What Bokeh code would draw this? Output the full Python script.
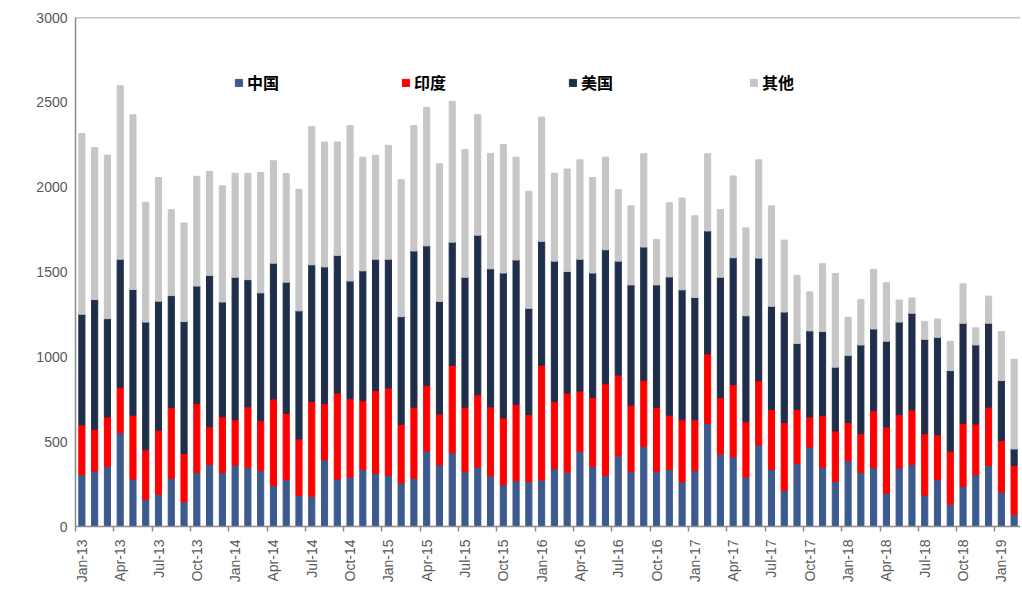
import math
from bokeh.plotting import figure
from bokeh.models import ColumnDataSource, FixedTicker, Range1d, Span, Legend, LegendItem
from bokeh.embed import file_html
from bokeh.resources import INLINE

MON = ["Jan", "Feb", "Mar", "Apr", "May", "Jun", "Jul", "Aug", "Sep", "Oct", "Nov", "Dec"]
months = [f"{m}-{y:02d}" for y in range(13, 20) for m in MON][:74]

china = [306, 326, 354, 553, 280, 158, 190, 284, 145, 318, 366, 318, 363, 347, 329, 241, 275, 183,
         178, 392, 280, 291, 336, 314, 302, 257, 284, 444, 363, 435, 322, 350, 298, 246, 269, 264,
         273, 341, 320, 442, 354, 302, 415, 325, 471, 325, 336, 264, 329, 607, 426, 411, 291, 480,
         336, 212, 370, 468, 349, 266, 387, 320, 347, 196, 345, 365, 185, 275, 131, 236, 304, 360,
         203, 72]
india = [293, 247, 292, 267, 376, 294, 378, 417, 286, 408, 222, 329, 266, 358, 295, 510, 392, 333,
         559, 332, 507, 462, 405, 488, 514, 345, 419, 388, 300, 514, 381, 426, 407, 394, 450, 396,
         678, 396, 467, 356, 406, 539, 477, 390, 390, 378, 320, 365, 300, 410, 334, 425, 327, 379,
         354, 401, 320, 178, 304, 297, 226, 227, 335, 390, 315, 322, 362, 265, 313, 372, 300, 343,
         304, 288]
usa = [652, 765, 579, 755, 741, 753, 760, 660, 777, 691, 892, 676, 840, 750, 753, 801, 773, 755,
       805, 806, 811, 694, 766, 773, 759, 635, 921, 822, 664, 727, 766, 941, 814, 854, 852, 626,
       730, 827, 716, 777, 734, 790, 672, 709, 786, 721, 815, 766, 721, 725, 709, 748, 624, 723,
       608, 651, 389, 507, 496, 376, 396, 523, 482, 506, 545, 570, 556, 575, 475, 590, 466, 495,
       353, 97]
other = [1065, 895, 964, 1023, 1030, 706, 729, 507, 581, 647, 613, 685, 613, 625, 709, 604, 640, 716,
         815, 736, 668, 916, 670, 613, 671, 807, 739, 816, 811, 830, 753, 710, 680, 757, 606, 690,
         732, 518, 604, 586, 563, 546, 421, 466, 550, 268, 437, 541, 482, 455, 399, 482, 518, 579,
         592, 424, 401, 230, 400, 552, 225, 268, 352, 345, 130, 90, 106, 108, 173, 232, 101, 160,
         289, 529]

series_names = ["中国", "印度", "美国", "其他"]
series_keys = ["china", "india", "usa", "other"]
colors = ["#3C5A8E", "#FF0000", "#1F2E4A", "#C6C6C6"]
y_ticks = [0, 500, 1000, 1500, 2000, 2500, 3000]

src = ColumnDataSource(dict(x=list(range(len(months))), china=china, india=india, usa=usa, other=other))

p = figure(width=1020, height=596, output_backend="svg", toolbar_location=None,
           x_range=Range1d(-0.5, len(months) - 0.5), y_range=Range1d(0, 3000),
           min_border_left=75, min_border_top=17, min_border_bottom=70, min_border_right=0)
p.outline_line_color = None
p.background_fill_color = "white"
p.border_fill_color = "white"

renderers = p.vbar_stack(series_keys, x="x", width=0.48, color=colors, source=src)

p.xgrid.visible = False
p.ygrid.visible = False

label_idx = list(range(0, len(months), 3))
xa = p.xaxis[0]
xa.ticker = FixedTicker(ticks=label_idx, minor_ticks=[i - 0.5 for i in range(0, len(months) + 1, 3)])
xa.major_label_overrides = {i: months[i] for i in label_idx}
xa.major_tick_out = 0
xa.major_tick_in = 0
xa.minor_tick_out = 5
xa.minor_tick_in = 0
xa.minor_tick_line_color = "#8C8C8C"
xa.minor_tick_line_width = 1.5
xa.major_label_orientation = math.pi / 2
xa.major_label_standoff = 8
xa.major_label_text_font = "Liberation Sans"
xa.major_label_text_font_size = "14px"
xa.major_label_text_color = "#595959"
xa.axis_line_color = "#8C8C8C"
xa.axis_line_width = 1.5

ya = p.yaxis[0]
ya.ticker = FixedTicker(ticks=y_ticks, minor_ticks=[])
ya.major_tick_out = 0
ya.major_tick_in = 0
ya.major_label_standoff = 8
ya.major_label_text_font = "Liberation Sans"
ya.major_label_text_font_size = "14px"
ya.major_label_text_color = "#595959"
ya.axis_line_color = "#8C8C8C"
ya.axis_line_width = 1.5

p.add_layout(Span(location=3000, dimension="width", line_color="#8C8C8C", line_width=1.5))


def make_legend(idxs, loc):
    lg = Legend(items=[LegendItem(label=series_names[i], renderers=[renderers[i]]) for i in idxs])
    lg.orientation = "horizontal"
    lg.location = loc
    lg.background_fill_alpha = 0
    lg.border_line_color = None
    lg.padding = 0
    lg.margin = 0
    lg.spacing = 122
    lg.glyph_width = 9
    lg.glyph_height = 9
    lg.label_standoff = 4
    lg.label_text_font = "Noto Sans CJK SC"
    lg.label_text_font_style = "bold"
    lg.label_text_font_size = "16px"
    lg.label_text_color = "#000000"
    p.add_layout(lg, "center")


make_legend([0, 1, 2], (159, 432))
make_legend([3], (674, 432))

open("out.html", "w").write(file_html(p, INLINE))
